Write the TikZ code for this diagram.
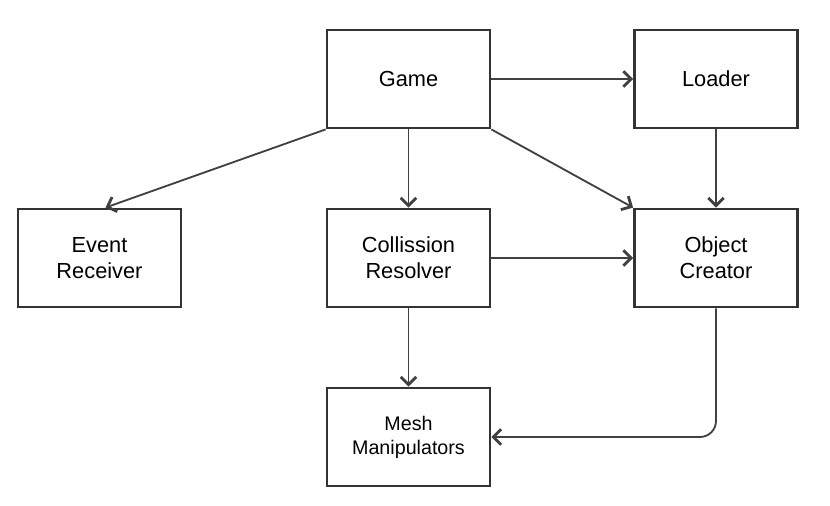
\documentclass[tikz,border=0pt]{standalone}
\usepackage{fontspec}
\setmainfont{Liberation Sans}
\usepackage{tikz}
\usetikzlibrary{arrows.meta, positioning}
\tikzstyle{arrow} = [line width=1.3pt, draw=black!75, -{Straight Barb[length=5.5pt, width=11pt, line width=2pt]}]

\begin{document}
\begin{tikzpicture}[
        x=0.025cm, y=-0.025cm,
        block/.style={draw=black!80, line width=2pt, minimum width=4.075cm, minimum height=2.45cm, align=center, font=\fontsize{15.5}{18.5}\selectfont}
    ]
        \useasboundingbox (0,0) rectangle (830,506);

        % Define the blocks
        \node (game) [block] at (408.5, 79) {Game};
        \node (loader) [block] at (716, 79) {Loader};
        \node (event) [block] at (99.5, 258) {Event\\Receiver};
        \node (resolver) [block] at (408.5, 258) {Collission\\Resolver};
        \node (creator) [block] at (716, 258) {Object\\Creator};
        \node (mesh) [block, font=\fontsize{14}{17}\selectfont] at (408.5, 437) {Mesh\\Manipulators};

        % Add arrows
        \draw[arrow] (game) -- (loader);
        \draw[arrow] (game.south west) -- ([xshift=0.15cm]event.north);
        \draw[arrow] (game) -- (resolver);
        \draw[arrow] (game.south east) -- (creator.north west);
        \draw[arrow] (loader) -- (creator);
        \draw[arrow] (resolver) -- (creator);
        \draw[arrow] (resolver) -- (mesh);
        \draw[arrow, rounded corners=0.4cm] (creator.south) |- (mesh.east);

    \end{tikzpicture}
\end{document}
